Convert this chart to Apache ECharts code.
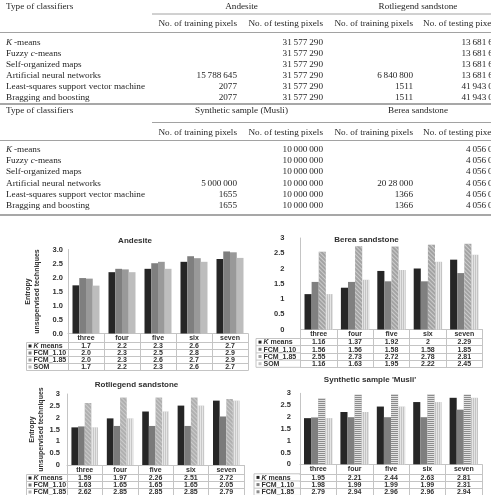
<!DOCTYPE html>
<html><head><meta charset="utf-8">
<script src="https://cdn.jsdelivr.net/npm/echarts@6/dist/echarts.min.js"></script>
<style>html,body{margin:0;padding:0;background:#fff}#c{width:491px;height:495px}</style>
</head><body><div id="c"></div>
<script>
// ---------- top table (text) ----------
const classifierTypes = ['K-means', 'Fuzzy c-means', 'Self-organized maps', 'Artificial neural networks', 'Least-squares support vector machine', 'Bragging and boosting'];
const headerLabel = 'Type of classifiers';
const groupsUpper = ['Andesite', 'Rotliegend sandstone'];
const groupsLower = ['Synthetic sample (Musli)', 'Berea sandstone'];
const columnHeads = ['No. of training pixels', 'No. of testing pixels', 'No. of training pixels', 'No. of testing pixels'];
const andesiteTraining = ['', '', '', '15 788 645', '2077', '2077'];
const andesiteTesting = ['31 577 290', '31 577 290', '31 577 290', '31 577 290', '31 577 290', '31 577 290'];
const rotliegendTraining = ['', '', '', '6 840 800', '1511', '1511'];
const rotliegendTesting = ['13 681 6', '13 681 6', '13 681 6', '13 681 6', '41 943 0', '41 943 0'];
const musliTraining = ['', '', '', '5 000 000', '1655', '1655'];
const musliTesting = ['10 000 000', '10 000 000', '10 000 000', '10 000 000', '10 000 000', '10 000 000'];
const bereaTraining = ['', '', '', '20 28 000', '1366', '1366'];
const bereaTesting = ['4 056 0', '4 056 0', '4 056 0', '4 056 0', '4 056 0', '4 056 0'];

// ---------- chart data ----------
const clusterCounts = ['three', 'four', 'five', 'six', 'seven'];
const techniqueNames = ['K means', 'FCM_1.10', 'FCM_1.85', 'SOM'];
const yAxisTitle = 'Entropy\nunsupervised techniques';
const panelTitles = ['Andesite', 'Berea sandstone', 'Rotliegend sandstone', "Synthetic sample 'Musli'"];

const andesiteKMeans = [1.72, 2.19, 2.31, 2.56, 2.66];
const andesiteFcm110 = [1.98, 2.31, 2.51, 2.76, 2.93];
const andesiteFcm185 = [1.96, 2.29, 2.56, 2.69, 2.90];
const andesiteSom    = [1.71, 2.19, 2.31, 2.56, 2.70];

const bereaKMeans = [1.16, 1.37, 1.92, 2, 2.29];
const bereaFcm110 = [1.56, 1.56, 1.58, 1.58, 1.85];
const bereaFcm185 = [2.55, 2.73, 2.72, 2.78, 2.81];
const bereaSom    = [1.16, 1.63, 1.95, 2.22, 2.45];

const rotliegendKMeans = [1.59, 1.97, 2.26, 2.51, 2.72];
const rotliegendFcm110 = [1.63, 1.65, 1.65, 1.65, 2.05];
const rotliegendFcm185 = [2.62, 2.85, 2.85, 2.85, 2.79];
const rotliegendSom    = [1.59, 1.97, 2.26, 2.51, 2.72];

const musliKMeans = [1.95, 2.21, 2.44, 2.63, 2.81];
const musliFcm110 = [1.98, 1.99, 1.99, 1.99, 2.31];
const musliFcm185 = [2.79, 2.94, 2.96, 2.96, 2.94];
const musliSom    = [1.95, 2.21, 2.44, 2.63, 2.81];

// ---------- styling / layout ----------
const SERIF = '"Liberation Serif", "Times New Roman", serif';
const SANS = '"Liberation Sans", Arial, sans-serif';
const INK = '#262626';
const INK2 = '#303030';
const GRIDLINE = '#c4c4c4';
const TFONT = '9.2px ' + SERIF;
const CFONT = 'bold 7px ' + SANS;

const graphics = [];
function txt(text, x, y, align, font, fill) {
  const f = font || TFONT;
  return { type: 'text', silent: true, style: {
    text: text, x: x, y: y, font: f, fill: fill || INK,
    align: align, textAlign: align, verticalAlign: 'middle', textVerticalAlign: 'middle',
    rich: { i: { font: 'italic ' + f, fill: fill || INK } }
  }};
}
function line(x1, y1, x2, y2, w, c) {
  return { type: 'line', silent: true, shape: { x1: x1, y1: y1, x2: x2, y2: y2 }, style: { stroke: c, lineWidth: w } };
}
function richName(n) { return n.replace(/^K-/, '{i|K}\u2009-').replace(/ c-/, ' {i|c}-'); }
function thin(s) { return s.replace(/ /g, '\u2009'); }

function tableBlock(L, groups, cols) {
  graphics.push(txt(headerLabel, 6, L.groupY, 'left'));
  graphics.push(txt(groups[0], 241.5, L.groupY, 'center'));
  graphics.push(txt(groups[1], 418, L.groupY, 'center'));
  graphics.push(line(152, L.ruleY, 491, L.ruleY, 0.8, '#8a8a8a'));
  graphics.push(txt(columnHeads[0], 237, L.subY, 'right'));
  graphics.push(txt(columnHeads[1], 323, L.subY, 'right'));
  graphics.push(txt(columnHeads[2], 413, L.subY, 'right'));
  graphics.push(txt(columnHeads[3], 423, L.subY, 'left'));
  graphics.push(line(0, L.rule2Y, 491, L.rule2Y, 0.8, '#8a8a8a'));
  classifierTypes.forEach(function (n, i) {
    const y = L.rowY0 + i * L.step;
    graphics.push(txt(richName(n), 6, y, 'left'));
    graphics.push(txt(thin(cols[0][i]), 237, y, 'right'));
    graphics.push(txt(thin(cols[1][i]), 323, y, 'right'));
    graphics.push(txt(thin(cols[2][i]), 413, y, 'right'));
    graphics.push(txt(thin(cols[3][i]), L.lastX, y, 'left'));
  });
  graphics.push(line(0, L.endY, 491, L.endY, 1.6, '#8a8a8a'));
}
tableBlock({ groupY: 6.5, ruleY: 14, subY: 24, rule2Y: 32.5, rowY0: 42.7, step: 10.9, endY: 104, lastX: 461.5 },
  groupsUpper, [andesiteTraining, andesiteTesting, rotliegendTraining, rotliegendTesting]);
tableBlock({ groupY: 110.5, ruleY: 122.5, subY: 132.5, rule2Y: 140.5, rowY0: 149.4, step: 11.25, endY: 215, lastX: 466 },
  groupsLower, [musliTraining, musliTesting, bereaTraining, bereaTesting]);

// ---------- panels ----------
const diag = function (alpha) { return { symbol: 'rect', symbolSize: 1, dashArrayX: [1, 0], dashArrayY: [1, 2], rotation: Math.PI / 4, color: 'rgba(255,255,255,' + alpha + ')' }; };
const vert = { symbol: 'rect', symbolSize: 1, dashArrayX: [1, 1], dashArrayY: [4, 0], rotation: 0, color: 'rgba(255,255,255,0.55)' };
const horiz = { symbol: 'rect', symbolSize: 1, dashArrayX: [4, 0], dashArrayY: [1, 1], rotation: 0, color: 'rgba(255,255,255,0.75)' };

const panels = [
  { values: [andesiteKMeans, andesiteFcm110, andesiteFcm185, andesiteSom], fmt: function (v) { return v.toFixed(1); }, yFmt: function (v) { return v.toFixed(1); },
    left: 68, top: 249.5, width: 180, height: 84, row0: 9, rowH: 7, legendX: 28.5, borderX: 26.5, yMargin: 5, yName: true, nameGap: 27,
    titleX: 135, titleY: 241, colors: ['#262626', '#7f7f7f', '#999999', '#bdbdbd'], decals: [null, null, null, null], catGap: '25%' },
  { values: [bereaKMeans, bereaFcm110, bereaFcm185, bereaSom], fmt: String, yFmt: String,
    left: 300.5, top: 238, width: 182, height: 91.5, row0: 9, rowH: 7.2, legendX: 258.5, borderX: 256, yMargin: 16, yName: false, nameGap: 0,
    titleX: 366.5, titleY: 239.5, colors: ['#262626', '#808080', '#a3a3a3', '#c4c4c4'], decals: [null, null, diag(0.45), vert], catGap: '22%' },
  { values: [rotliegendKMeans, rotliegendFcm110, rotliegendFcm185, rotliegendSom], fmt: String, yFmt: String,
    left: 67, top: 394, width: 177, height: 71, row0: 9.5, rowH: 7, legendX: 28.5, borderX: 26.5, yMargin: 7, yName: true, nameGap: 22,
    titleX: 136.5, titleY: 384.5, colors: ['#262626', '#7a7a7a', '#b0b0b0', '#c8c8c8'], decals: [null, null, diag(0.35), vert], catGap: '25%' },
  { values: [musliKMeans, musliFcm110, musliFcm185, musliSom], fmt: String, yFmt: String,
    left: 300, top: 393.3, width: 182, height: 71, row0: 9.5, rowH: 7.2, legendX: 256.5, borderX: 254, yMargin: 9, yName: false, nameGap: 0,
    titleX: 370, titleY: 379.5, colors: ['#262626', '#7f7f7f', '#8c8c8c', '#c4c4c4'], decals: [null, null, horiz, vert], catGap: '22%' }
];

const grids = [], xAxes = [], yAxes = [], series = [];
const labelBase = { fontSize: 7, fontWeight: 'bold', color: INK2, fontFamily: SANS };
const yLabelBase = { fontSize: 7.5, fontWeight: 'bold', color: INK2, fontFamily: SANS };

panels.forEach(function (p, pi) {
  grids.push({ left: p.left, top: p.top, width: p.width, height: p.height, containLabel: false, outerBoundsMode: 'none' });
  const bottom = p.top + p.height;
  const tableH = p.row0 + 4 * p.rowH;
  const mainIdx = xAxes.length;
  xAxes.push({ type: 'category', gridIndex: pi, data: clusterCounts, position: 'bottom',
    axisLine: { show: true, onZero: false, lineStyle: { color: GRIDLINE, width: 1 } },
    axisTick: { show: true, alignWithLabel: false, interval: 0, length: tableH, lineStyle: { color: GRIDLINE, width: 1 } },
    axisLabel: Object.assign({ interval: 0, margin: 1.5 }, labelBase), splitLine: { show: false } });
  p.values.forEach(function (arr, j) {
    xAxes.push({ type: 'category', gridIndex: pi, data: clusterCounts, position: 'bottom', offset: p.row0 + j * p.rowH,
      axisLine: { show: true, onZero: false, lineStyle: { color: GRIDLINE, width: 1 } },
      axisTick: { show: false },
      axisLabel: Object.assign({ interval: 0, margin: 0.5, formatter: function (v, k) { return p.fmt(arr[k]); } }, labelBase),
      splitLine: { show: false } });
  });
  xAxes.push({ type: 'category', gridIndex: pi, data: clusterCounts, position: 'bottom', offset: tableH,
    axisLine: { show: true, onZero: false, lineStyle: { color: GRIDLINE, width: 1 } },
    axisTick: { show: false }, axisLabel: { show: false }, splitLine: { show: false } });

  yAxes.push({ type: 'value', gridIndex: pi, min: 0, max: 3, interval: 0.5,
    axisLine: { show: true, lineStyle: { color: GRIDLINE, width: 1 } }, axisTick: { show: false }, splitLine: { show: false },
    axisLabel: Object.assign({ margin: p.yMargin, formatter: p.yFmt }, yLabelBase),
    name: p.yName ? yAxisTitle : '', nameLocation: 'middle', nameRotate: 90, nameGap: p.nameGap,
    nameTextStyle: { fontSize: 7, fontWeight: 'bold', color: INK2, fontFamily: SANS, lineHeight: 8.3, align: 'center' } });

  p.values.forEach(function (arr, j) {
    const itemStyle = { color: p.colors[j] };
    if (p.decals[j]) itemStyle.decal = p.decals[j];
    series.push({ type: 'bar', name: techniqueNames[j], xAxisIndex: mainIdx, yAxisIndex: pi, data: arr,
      barGap: '0%', barCategoryGap: p.catGap, itemStyle: itemStyle, silent: true });
  });

  // label column of the data table (series keys)
  for (let r = 0; r <= 4; r++) {
    const y = bottom + p.row0 + r * p.rowH;
    graphics.push(line(p.borderX, y, p.left, y, 1, GRIDLINE));
  }
  graphics.push(line(p.borderX, bottom + p.row0, p.borderX, bottom + tableH, 1, GRIDLINE));
  techniqueNames.forEach(function (n, j) {
    const cy = bottom + p.row0 + j * p.rowH + p.rowH / 2;
    graphics.push({ type: 'rect', silent: true, shape: { x: p.legendX, y: cy - 1.5, width: 3, height: 3 }, style: { fill: p.colors[j] } });
    graphics.push(txt(n.replace(/^K /, '{i|K} '), p.legendX + 5, cy + 0.3, 'left', CFONT, INK2));
  });
  graphics.push(txt(panelTitles[pi], p.titleX, p.titleY, 'center', 'bold 8px ' + SANS, INK2));
});

const chart = echarts.init(document.getElementById('c'), null, { renderer: 'canvas' });
chart.setOption({
  animation: false,
  backgroundColor: '#ffffff',
  grid: grids, xAxis: xAxes, yAxis: yAxes, series: series,
  graphic: { elements: graphics }
});
</script></body></html>
